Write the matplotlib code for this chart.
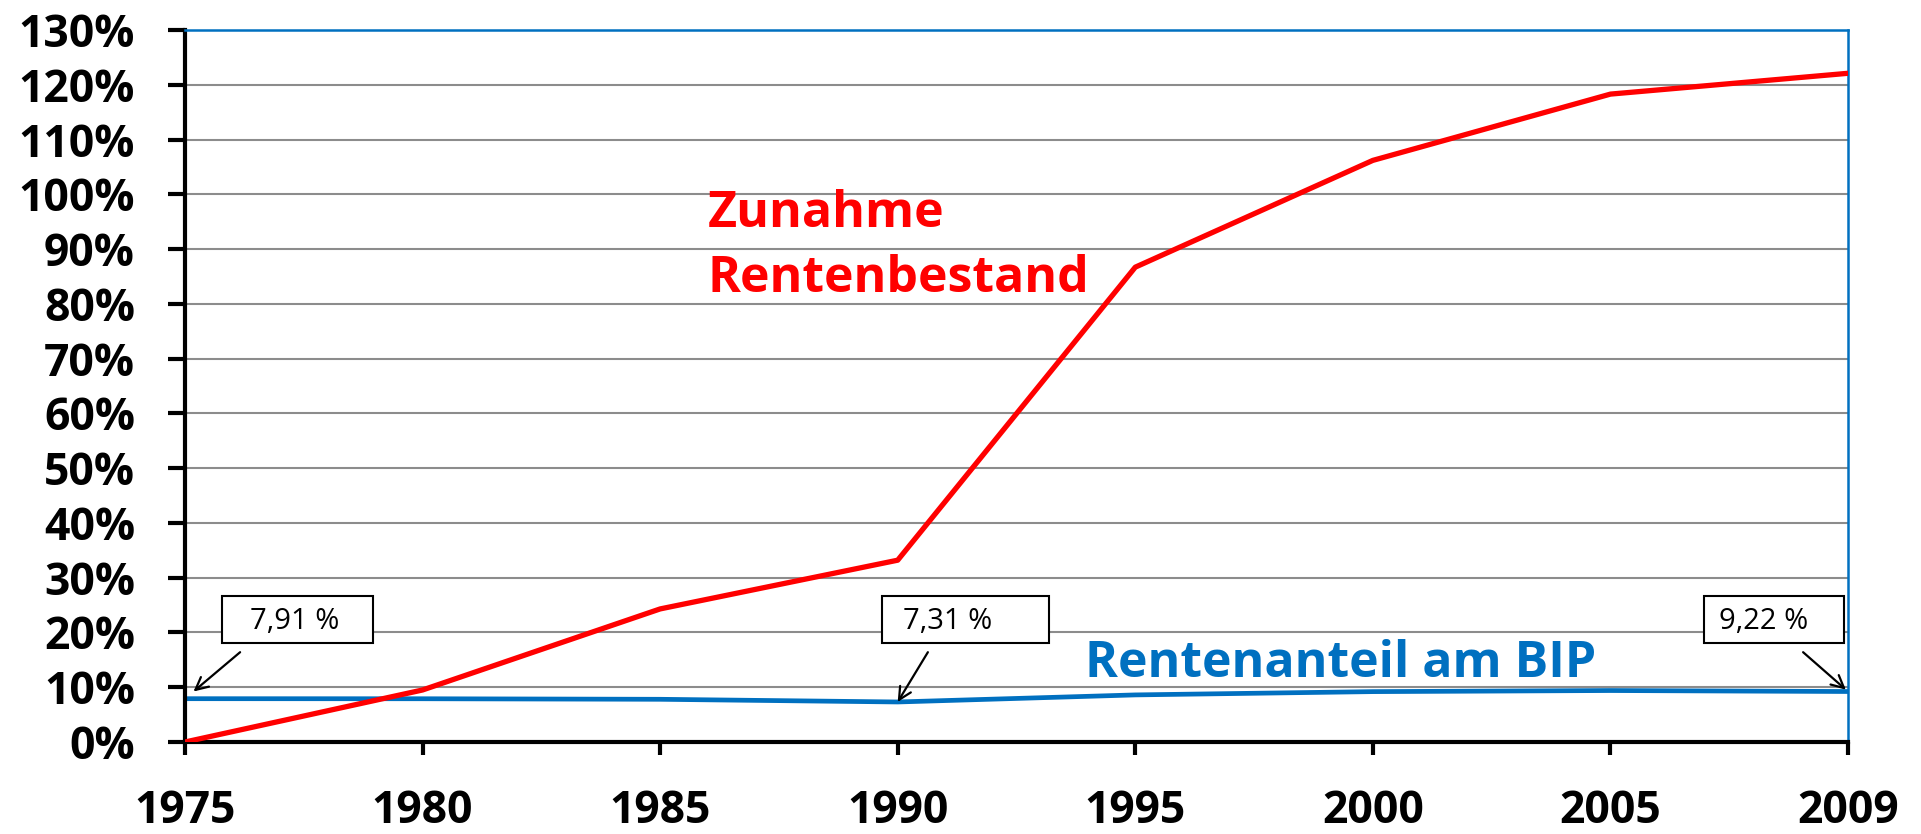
import matplotlib.pyplot as plt
from matplotlib.patches import Rectangle
import numpy as np

years = ['1975', '1980', '1985', '1990', '1995', '2000', '2005', '2009']
zunahme = [0.0, 9.5, 24.3, 33.2, 86.7, 106.2, 118.3, 122.1]
rentenanteil = [7.91, 7.9, 7.8, 7.31, 8.6, 9.2, 9.4, 9.22]
callouts = {0: '7,91 %', 3: '7,31 %', 7: '9,22 %'}
yticks = np.arange(0, 131, 10)

red = '#FF0000'
blue = '#0070C0'
plt.rcParams['font.family'] = ['Open Sans', 'DejaVu Sans']

fig = plt.figure(figsize=(19.21, 8.34), dpi=100)
ax = fig.add_axes([0.0963, 0.1103, 0.8657, 0.8537])

x = np.arange(len(years))

#grid
for v in yticks[1:-1]:
    ax.axhline(v, color='#8c8c8c', linewidth=1.5, zorder=0)

#plotting
ax.plot(x, zunahme, linewidth=3.8, color=red, zorder=3, solid_capstyle='round')
ax.plot(x, rentenanteil, linewidth=3.4, color=blue, zorder=2)

#axis range
ax.set_xlim(0, len(years) - 1)
ax.set_ylim(0, 130)

#spines
ax.spines['left'].set_linewidth(3)
ax.spines['bottom'].set_linewidth(3)
ax.spines['top'].set_color(blue)
ax.spines['right'].set_color(blue)
ax.spines['top'].set_linewidth(1.8)
ax.spines['right'].set_linewidth(1.8)

#ticks
ax.set_xticks(x)
ax.set_xticklabels(years)
ax.set_yticks(yticks)
ax.set_yticklabels(['%d%%' % v for v in yticks])
ax.tick_params(axis='y', direction='out', length=12, width=3, pad=24,
               labelsize=32)
ax.tick_params(axis='x', direction='out', length=9.5, width=3, pad=24,
               labelsize=32)
for lab in ax.get_xticklabels() + ax.get_yticklabels():
    lab.set_fontweight('bold')

#series labels
ax.text(2.201, 94.0, 'Zunahme', color=red, fontsize=36,
        fontweight='bold', ha='left', va='baseline')
ax.text(2.201, 82.2, 'Rentenbestand', color=red, fontsize=36,
        fontweight='bold', ha='left', va='baseline')
ax.text(3.787, 11.8, 'Rentenanteil am BIP', color=blue, fontsize=36,
        fontweight='bold', ha='left', va='baseline')

#callout boxes (box left/right in category units, text centre, arrow start)
boxes = {0: (0.156, 0.791, 0.463, 0.232, 8),
         3: (2.934, 3.637, 3.21, 3.127, 0),
         7: (6.394, 6.983, 6.646, 6.811, 2)}
for i, label in callouts.items():
    left, right, tx, ax0, shrink = boxes[i]
    ax.add_patch(Rectangle((left, 18.0), right - left, 8.6, facecolor='white',
                           edgecolor='black', linewidth=1.5, zorder=5,
                           clip_on=False))
    ax.text(tx, 22.0, label, fontsize=21, ha='center', va='center', zorder=6)
    ax.annotate('', xy=(i, rentenanteil[i]), xytext=(ax0, 16.4),
                arrowprops=dict(arrowstyle='->,head_length=0.9,head_width=0.45',
                                color='black', lw=1.6, shrinkA=0,
                                shrinkB=shrink),
                zorder=6, annotation_clip=False)

plt.savefig('out.png', dpi=100)
